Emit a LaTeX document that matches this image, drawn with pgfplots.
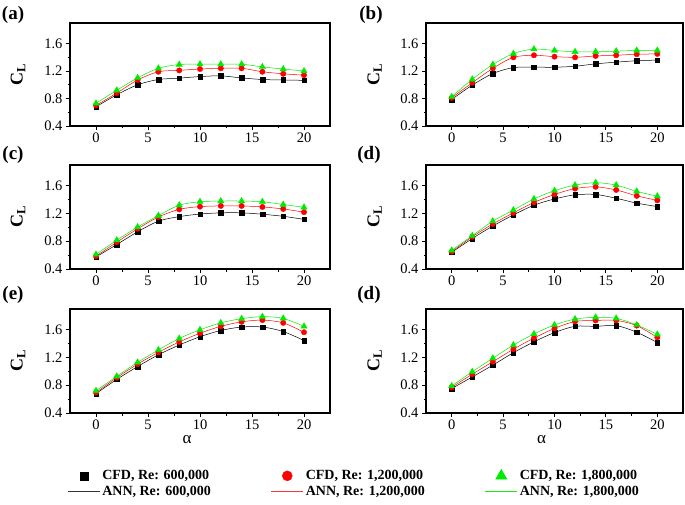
\documentclass[border=0pt]{standalone}
\usepackage{pgfplots}
\pgfplotsset{compat=1.18}
\usepackage{pgfplotstable}
\usepackage{fontspec}
\setmainfont{Liberation Serif}
\definecolor{cgreen}{RGB}{0,235,0}
\definecolor{cred}{RGB}{255,0,0}

\pgfplotstableread{
a b r g
0 0.68 0.70 0.73
2 0.855 0.88 0.92
4 1.00 1.07 1.10
6 1.077 1.19 1.24
8 1.097 1.21 1.295
10 1.12 1.23 1.30
12 1.13 1.24 1.30
14 1.10 1.24 1.30
16 1.077 1.19 1.26
18 1.07 1.16 1.23
20 1.065 1.14 1.20
}\tA
\pgfplotstableread{
a b r g
0 0.787 0.81 0.826
2 0.995 1.03 1.08
4 1.164 1.24 1.295
6 1.25 1.40 1.455
8 1.256 1.43 1.52
10 1.256 1.41 1.50
12 1.27 1.40 1.48
14 1.305 1.42 1.48
16 1.33 1.43 1.49
18 1.35 1.445 1.50
20 1.36 1.45 1.50
}\tB
\pgfplotstableread{
a b r g
0 0.574 0.584 0.61
2 0.753 0.787 0.816
4 0.937 0.98 1.005
6 1.09 1.15 1.17
8 1.155 1.26 1.32
10 1.193 1.30 1.37
12 1.21 1.31 1.38
14 1.21 1.31 1.38
16 1.19 1.295 1.37
18 1.16 1.266 1.33
20 1.116 1.22 1.29
}\tC
\pgfplotstableread{
a b r g
0 0.64 0.65 0.67
2 0.84 0.865 0.88
4 1.02 1.05 1.09
6 1.18 1.21 1.25
8 1.32 1.36 1.41
10 1.41 1.475 1.53
12 1.47 1.56 1.61
14 1.475 1.585 1.645
16 1.42 1.54 1.61
18 1.35 1.455 1.52
20 1.30 1.39 1.45
}\tD
\pgfplotstableread{
a b r g
0 0.68 0.695 0.72
2 0.885 0.91 0.93
4 1.07 1.105 1.13
6 1.24 1.275 1.31
8 1.38 1.425 1.475
10 1.50 1.55 1.60
12 1.59 1.65 1.70
14 1.64 1.715 1.76
16 1.64 1.74 1.79
18 1.575 1.70 1.765
20 1.445 1.565 1.65
}\tE
\pgfplotstableread{
a b r g
0 0.753 0.77 0.79
2 0.92 0.96 0.995
4 1.09 1.14 1.19
6 1.27 1.32 1.38
8 1.426 1.48 1.54
10 1.56 1.62 1.67
12 1.65 1.72 1.755
14 1.65 1.735 1.78
16 1.66 1.735 1.765
18 1.565 1.66 1.67
20 1.416 1.49 1.535
}\tF

\pgfplotsset{
  panel/.style={
    scale only axis, xmin=-2.5, xmax=22.5, ymin=0.4, ymax=1.9,
    xtick={0,5,10,15,20}, ytick={0.4,0.8,1.2,1.6},
    minor x tick num=1, minor y tick num=1,
    tick align=outside, xtick pos=left, ytick pos=left,
    major tick length=4pt, minor tick length=2.5pt,
    axis line style={line width=1.2pt},
    every tick/.style={black, line width=0.9pt},
    tick label style={font=\fontsize{14.5}{16}\selectfont},
    /pgf/number format/assume math mode=true,
    yticklabel style={/pgf/number format/fixed, /pgf/number format/fixed zerofill, /pgf/number format/precision=1},
    xticklabel style={yshift=1pt},
    ylabel={\textbf{C\textsubscript{L}}},
    ylabel style={font=\fontsize{18}{20}\selectfont, at={(axis description cs:-0.2,0.5)}, anchor=center},
  },
  alab/.style={xlabel={α}, xlabel style={font=\fontsize{17}{19}\selectfont, at={(axis description cs:0.45,0)}, anchor=center, yshift=-27pt}},
}
\newcommand{\series}[1]{%
  \addplot[black, line width=0.5pt, smooth] table[x=a,y=b]{#1};
  \addplot[cred, line width=0.5pt, smooth] table[x=a,y=r]{#1};
  \addplot[cgreen, line width=0.5pt, smooth] table[x=a,y=g]{#1};
  \addplot[only marks, mark=square*, mark size=2.3pt, black] table[x=a,y=b]{#1};
  \addplot[only marks, mark=*, mark size=2.7pt, cred] table[x=a,y=r]{#1};
  \addplot[only marks, mark=triangle*, mark size=3.6pt, cgreen] table[x=a,y=g]{#1};
}

\begin{document}
\begin{tikzpicture}
\useasboundingbox (0,0) rectangle (685pt,504pt);
\tikzset{plab/.style={font=\bfseries\fontsize{19}{21}\selectfont, anchor=center}}
% row 1
\begin{axis}[panel, at={(70pt,481pt)}, anchor=north west, width=260pt, height=103pt]
\series{\tA}
\end{axis}
\begin{axis}[panel, at={(426pt,481pt)}, anchor=north west, width=257pt, height=103pt]
\series{\tB}
\end{axis}
% row 2
\begin{axis}[panel, at={(70pt,339pt)}, anchor=north west, width=260pt, height=104pt]
\series{\tC}
\end{axis}
\begin{axis}[panel, at={(426pt,339pt)}, anchor=north west, width=257pt, height=104pt]
\series{\tD}
\end{axis}
% row 3
\begin{axis}[panel, alab, at={(70pt,195pt)}, anchor=north west, width=260pt, height=104pt]
\series{\tE}
\end{axis}
\begin{axis}[panel, alab, at={(426pt,195pt)}, anchor=north west, width=257pt, height=104pt]
\series{\tF}
\end{axis}
\node[plab] at (13pt,489pt) {(a)};
\node[plab] at (371pt,489pt) {(b)};
\node[plab] at (13pt,349pt) {(c)};
\node[plab] at (369pt,349pt) {(d)};
\node[plab] at (13pt,209pt) {(e)};
\node[plab] at (369pt,209pt) {(d)};
% legend
\begin{axis}[at={(0pt,0pt)}, anchor=south west, scale only axis, width=685pt, height=45pt,
  hide axis, xmin=0, xmax=1, ymin=0, ymax=1,
  legend columns=3, legend cell align=left,
  legend style={at={(0.517,0.45)}, anchor=center, draw=none, fill=none,
    font=\bfseries\fontsize{14}{15}\selectfont, row sep=1pt,
    /tikz/every even column/.append style={column sep=58pt}}]
\addlegendimage{legend image code/.code={\draw[black, fill=black] plot[only marks, mark=square*, mark size=4pt] coordinates {(16pt,0pt)};}}
\addlegendentry{CFD, Re: 600,000}
\addlegendimage{legend image code/.code={\draw[cred, fill=cred] plot[only marks, mark=*, mark size=5pt] coordinates {(16pt,0pt)};}}
\addlegendentry{CFD, Re: 1,200,000}
\addlegendimage{legend image code/.code={\draw[cgreen, fill=cgreen] plot[only marks, mark=triangle*, mark size=6.5pt] coordinates {(16pt,0pt)};}}
\addlegendentry{CFD, Re: 1,800,000}
\addlegendimage{legend image code/.code={\draw[black!80, line width=0.8pt] plot[mark=none] coordinates {(0pt,0pt) (32pt,0pt)};}}
\addlegendentry{ANN, Re: 600,000}
\addlegendimage{legend image code/.code={\draw[cred!80, line width=1pt] plot[mark=none] coordinates {(0pt,0pt) (32pt,0pt)};}}
\addlegendentry{ANN, Re: 1,200,000}
\addlegendimage{legend image code/.code={\draw[cgreen!90, line width=1pt] plot[mark=none] coordinates {(0pt,0pt) (32pt,0pt)};}}
\addlegendentry{ANN, Re: 1,800,000}
\end{axis}
\end{tikzpicture}
\end{document}
